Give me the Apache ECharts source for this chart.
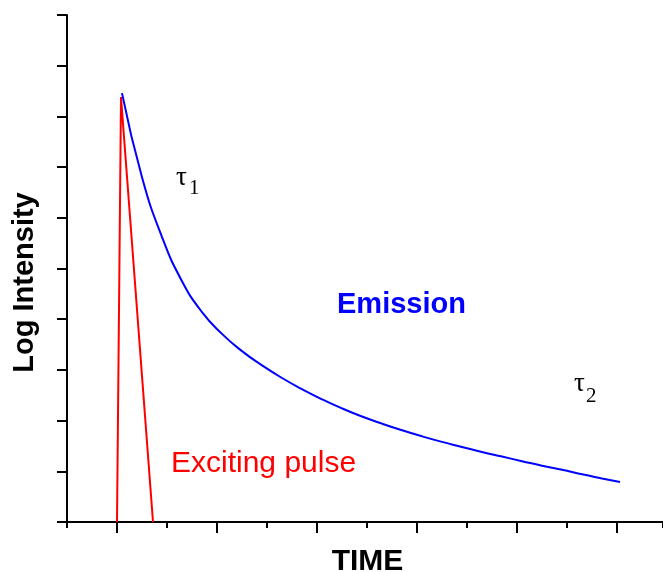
<!DOCTYPE html>
<html>
<head>
<meta charset="utf-8">
<script src="https://cdn.jsdelivr.net/npm/echarts@6/dist/echarts.min.js"></script>
<style>
  html, body { margin: 0; padding: 0; background: #fff; }
  #chart { width: 663px; height: 572px; }
</style>
</head>
<body>
<div id="chart"></div>
<script>
// Emission decay curve (time, log intensity)
const emissionTime = [1.1, 1.5, 1.9, 2.3, 2.7, 3.1, 3.5, 3.9, 4.3, 4.7, 5.1, 5.5, 5.9, 6.3, 6.7, 7.1, 7.5, 7.9, 8.3, 8.7, 9.1, 9.5, 9.9, 10.3, 10.7, 11.06];
const emissionLogI = [8.46, 6.80, 5.62, 4.75, 4.14, 3.71, 3.37, 3.09, 2.84, 2.62, 2.42, 2.24, 2.08, 1.94, 1.81, 1.69, 1.58, 1.48, 1.38, 1.29, 1.20, 1.11, 1.03, 0.94, 0.86, 0.79];

// Exciting pulse (triangle)
const pulseTime = [1.00, 1.08, 1.72];
const pulseLogI = [0, 8.38, 0];

// Long tick positions on the time axis
const majorTimeTicks = [1, 3, 5, 7, 9, 11];

const sans = '"Liberation Sans", Arial, sans-serif';
const serif = '"Liberation Serif", "Times New Roman", serif';

const zip = (xs, ys) => xs.map((x, i) => [x, ys[i]]);

const chart = echarts.init(document.getElementById('chart'));

const axisLineStyle = { color: '#000', width: 2 };

chart.setOption({
  animation: false,
  backgroundColor: '#fff',
  grid: { left: 67, right: 0, top: 15, bottom: 50, outerBoundsMode: 'none', containLabel: false },
  xAxis: [
    {
      type: 'value', min: 0, max: 11.92, interval: 1, position: 'bottom',
      name: 'TIME', nameLocation: 'middle', nameGap: 25,
      nameTextStyle: { fontFamily: sans, fontWeight: 'bold', fontSize: 30, color: '#000', padding: [0, 0, 0, 5] },
      axisLine: { show: true, lineStyle: axisLineStyle },
      axisTick: { show: true, length: 6, lineStyle: { color: '#000', width: 2 } },
      axisLabel: { show: false },
      splitLine: { show: false }
    },
    {
      type: 'value', min: 0, max: 11.92, position: 'bottom',
      axisLine: { show: false },
      axisTick: { show: true, length: 11, customValues: majorTimeTicks, lineStyle: { color: '#000', width: 2 } },
      axisLabel: { show: false },
      splitLine: { show: false }
    }
  ],
  yAxis: {
    type: 'value', min: 0, max: 10, interval: 1,
    name: 'Log Intensity', nameLocation: 'middle', nameGap: 28,
    nameTextStyle: { fontFamily: sans, fontWeight: 'bold', fontSize: 29, color: '#000', padding: [0, 28, 0, 0] },
    axisLine: { show: true, lineStyle: axisLineStyle },
    axisTick: { show: true, length: 10, lineStyle: { color: '#000', width: 2 } },
    axisLabel: { show: false },
    splitLine: { show: false }
  },
  series: [
    {
      name: 'Exciting pulse', type: 'line', xAxisIndex: 0,
      data: zip(pulseTime, pulseLogI),
      symbol: 'none', lineStyle: { color: '#ff0000', width: 2 }, z: 2
    },
    {
      name: 'Emission', type: 'line', xAxisIndex: 0,
      data: zip(emissionTime, emissionLogI),
      smooth: 0.5, symbol: 'none', lineStyle: { color: '#0000ff', width: 2 }, z: 3
    }
  ],
  graphic: [
    { type: 'text', left: 337, top: 290, style: { text: 'Emission', font: 'bold 29px ' + sans, fill: '#0000ff' } },
    { type: 'text', left: 171, top: 449, style: { text: 'Exciting pulse', font: '30px ' + sans, fill: '#ff0000' } },
    { type: 'text', left: 176, top: 164, style: { text: 'τ', font: '27px ' + serif, fill: '#000' } },
    { type: 'text', left: 189, top: 178, style: { text: '1', font: '21px ' + serif, fill: '#000' } },
    { type: 'text', left: 574, top: 370, style: { text: 'τ', font: '27px ' + serif, fill: '#000' } },
    { type: 'text', left: 586, top: 386, style: { text: '2', font: '21px ' + serif, fill: '#000' } }
  ]
});
</script>
</body>
</html>
